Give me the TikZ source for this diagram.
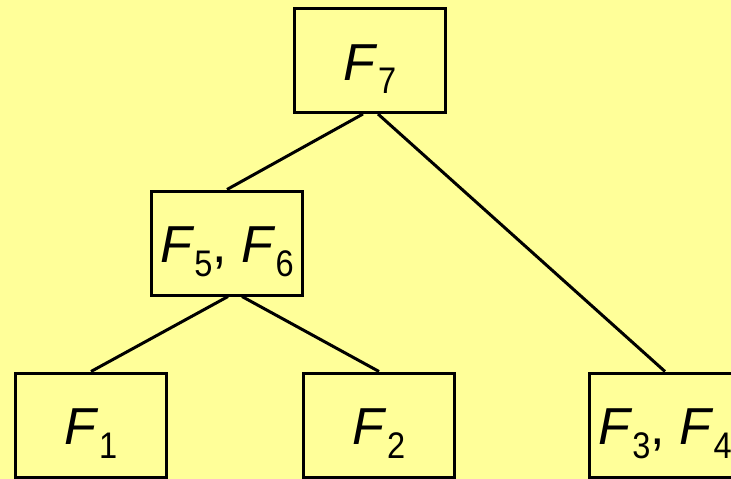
\documentclass[tikz,border=0pt]{standalone}
\usepackage{fontspec}
\setmainfont{Liberation Sans}
\usetikzlibrary{positioning}
\definecolor{slidebg}{HTML}{FFFF99}
\newcommand{\Fs}[1]{\textit{F}\raisebox{-13.5pt}{\scalebox{0.88}[1]{\fontsize{37}{40}\selectfont #1}}}

\begin{document}
\begin{tikzpicture}[x=1pt, y=-1pt,
    block/.style={draw=black, line width=3pt, rectangle, minimum width=151pt, minimum height=104pt, inner sep=0pt, font=\fontsize{52}{60}\selectfont, text height=52pt, text depth=13pt},
    line/.style={draw=black, line width=3pt}
]
    \fill[slidebg] (0,0) rectangle (731,479);
    \useasboundingbox (0,0) rectangle (731,479);

    \node [block] (f7) at (370,60.5) {\Fs{7}};
    \node [block] (f56) at (227,243) {\Fs{5}, \Fs{6}};
    \node [block] (f1) at (91,425) {\Fs{1}};
    \node [block, right=134pt of f1] (f2) {\Fs{2}};
    \node [block, right=132pt of f2] (f34) {\Fs{3}, \Fs{4}};

    \path [line] ([xshift=-7pt]f7.south) -- (f56.north);
    \path [line] ([xshift=8pt]f7.south) -- (f34.north);
    \path [line] ([xshift=1pt]f56.south) -- (f1.north);
    \path [line] ([xshift=15pt]f56.south) -- (f2.north);
\end{tikzpicture}
\end{document}
